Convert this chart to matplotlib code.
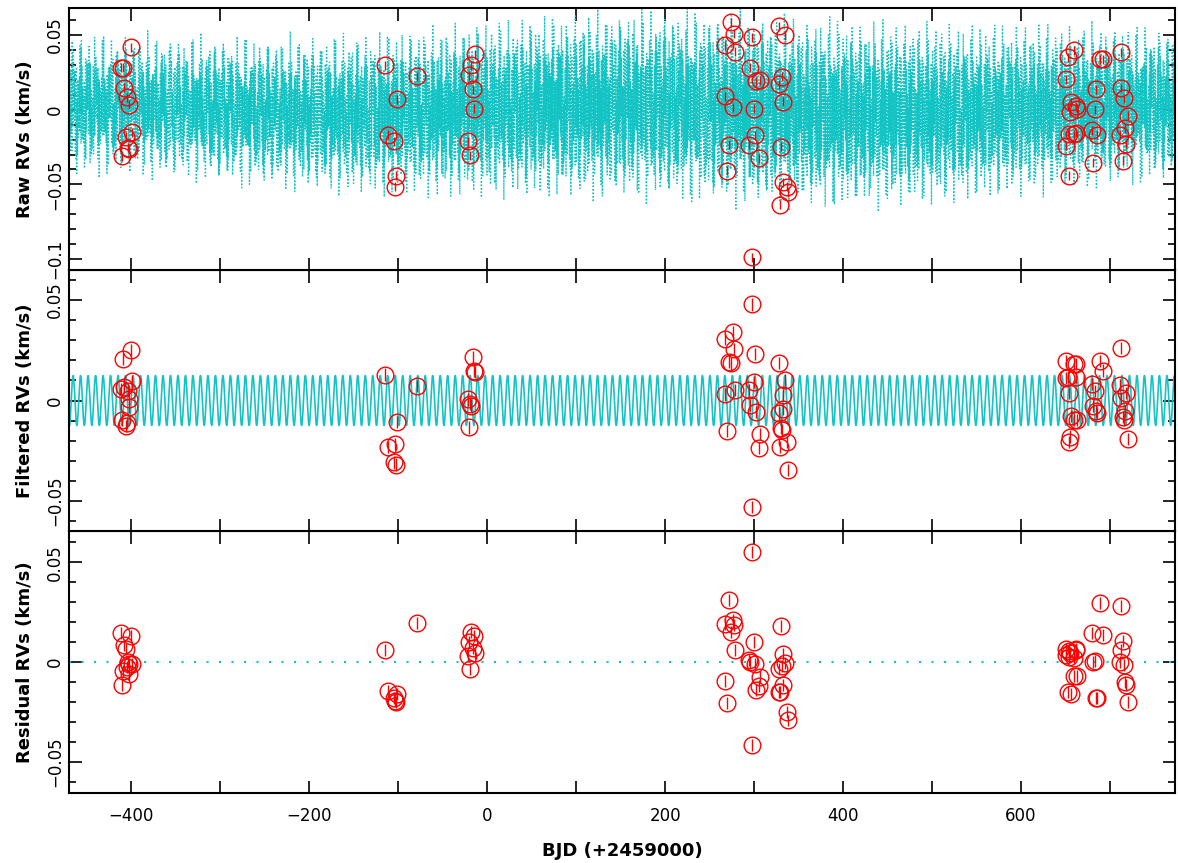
import numpy as np
import matplotlib.pyplot as plt
from matplotlib.ticker import MultipleLocator, FuncFormatter

# observation epochs, BJD - 2459000
times = [-411.5, -410.5, -408.8, -407.8, -406.5, -404.8, -403.7, -403.0, -402.2, -400.3, -399.3,
         -114.5, -111.5, -104.5, -103.4, -102.6, -101.6, -79.0,
         -21.5, -20.5, -19.5, -18.0, -16.5, -15.0, -13.5,
         267.5, 267.8, 269.2, 272.3, 274.2, 276.0, 277.1, 278.2, 293.9, 295.1, 297.3, 297.8,
         300.3, 301.1, 302.2, 305.2, 306.3, 328.1, 328.3, 328.7, 330.4, 330.8, 332.1, 332.9,
         335.1, 337.2, 337.6,
         650.6, 651.0, 652.7, 654.0, 654.4, 655.0, 656.1, 659.5, 659.8, 661.7, 662.0, 662.3,
         679.3, 681.1, 683.4, 684.2, 685.6, 688.3, 691.7, 711.1, 712.0, 712.4, 714.5, 715.9,
         716.7, 717.9, 720.4]

raw_rv = [0.028, -0.031, 0.028, 0.0147, -0.018, 0.0083, -0.0255, -0.0266, 0.0032, 0.0417, -0.0151,
          0.0296, -0.0167, -0.021, -0.0516, -0.0442, 0.007, 0.0223,
          -0.021, 0.023, -0.0306, 0.0297, 0.0135, 0.0007, 0.037,
          0.0430, 0.0090, -0.0409, -0.0235, 0.0586, 0.0016, 0.0507, 0.0386, -0.0235, 0.0279,
          -0.0986, 0.0484, 0.0007, -0.0172, 0.0191, -0.0325, 0.0198, 0.0169, 0.0559, -0.0636,
          -0.0248, 0.0219, 0.0054, -0.0485, 0.0498, -0.0514, -0.0551,
          -0.0241, 0.0204, 0.0349, -0.0165, -0.0441, -0.0013, 0.0049, -0.0165, 0.0398, -0.0154,
          0.0022, 0.0007, -0.0137, -0.0355, 0.0004, 0.0135, -0.0168, 0.0336, 0.0336, -0.0168,
          0.0384, 0.0145, -0.0341, 0.0076, -0.0124, -0.0227, -0.0041]

filtered_rv = [0.0059, -0.0096, 0.0208, 0.0069, -0.0127, -0.0114, 0.0045, -0.0033, 0.0008, 0.0249, 0.0099,
               0.0129, -0.0229, -0.0308, -0.0218, -0.0318, -0.0105, 0.0074,
               0.0005, -0.0134, -0.0015, -0.0025, 0.0218, 0.0149, 0.014,
               0.0030, 0.0305, -0.0151, 0.0192, 0.0184, 0.0338, 0.0257, 0.0051, 0.0053, -0.0023,
               -0.0528, 0.0477, 0.0091, 0.0232, -0.0055, -0.0238, -0.0167, 0.0187, -0.0061, -0.0230,
               -0.0137, -0.0149, 0.0028, -0.0043, 0.0103, -0.0204, -0.0344,
               0.0195, 0.0113, 0.0116, 0.0035, -0.0207, -0.0179, -0.0078, -0.0099, 0.0182, 0.0182,
               0.0119, -0.0099, 0.0083, -0.0028, 0.0046, -0.0050, -0.0061, 0.0195, 0.0149, 0.0076,
               0.0260, 0.0012, -0.0084, -0.0099, -0.0050, 0.0035, -0.0190]

residual_rv = [0.0144, -0.0115, -0.0043, 0.0086, 0.0065, -0.0025, 0.0, -0.0011, -0.006, 0.0129, -0.0011,
               0.0062, -0.0142, -0.0181, -0.0195, -0.0201, -0.016, 0.0195,
               0.0029, 0.0099, -0.0036, 0.0153, 0.007, 0.0129, 0.0047,
               -0.0095, 0.0193, -0.0205, 0.0313, 0.0152, 0.0211, 0.0185, 0.0060, 0.0012, -0.0001,
               -0.0414, 0.0553, 0.0101, -0.0011, -0.0141, -0.0121, -0.0072, -0.0149, -0.0032, -0.0151,
               0.0180, -0.0019, -0.0113, 0.0040, -0.0006, -0.0248, -0.0292,
               0.0068, 0.0037, -0.0149, 0.0058, 0.0025, 0.0045, -0.0160, -0.0068, 0.0019, 0.0065,
               0.0063, -0.0068, 0.0144, -0.0001, 0.0004, -0.018, -0.018, 0.0297, 0.0134, -0.0001,
               0.0282, 0.0063, 0.0106, -0.0012, -0.0098, -0.0116, -0.020]

rv_err = 0.003

# fitted model parameters
planet_period = 8.42
planet_amp = 0.0124
planet_t0 = -465.4
act_periods = [0.7854, 0.6789]
act_weights = [0.72, 0.28]
act_phases = [0.0, 1.3]
env_mean, env_amp, env_peak, env_period = 0.047, 0.009, 280.0, 1500.0
trend_amp, trend_min, trend_period = 0.003, 450.0, 600.0
model_step = 0.3

XLIM = (-470, 773)
CYAN = '#14c4c4'

tm = np.arange(XLIM[0], XLIM[1], model_step)
tf = np.linspace(XLIM[0], XLIM[1], 6000)
planet_fine = planet_amp * np.cos(2 * np.pi * (tf - planet_t0) / planet_period)
planet = planet_amp * np.cos(2 * np.pi * (tm - planet_t0) / planet_period)
env = env_mean + env_amp * np.cos(2 * np.pi * (tm - env_peak) / env_period)
act = sum(w * np.sin(2 * np.pi * tm / p + ph)
          for p, w, ph in zip(act_periods, act_weights, act_phases))
trend = -trend_amp * np.cos(2 * np.pi * (tm - trend_min) / trend_period)
raw_model = env * act + planet + trend


def fmt(v, pos):
    s = '%g' % round(v, 4)
    return s.replace('-', '\u2212')


def style(ax, ylim, ylabel):
    ax.set_xlim(*XLIM)
    ax.set_ylim(*ylim)
    ax.xaxis.set_major_locator(MultipleLocator(200))
    ax.xaxis.set_minor_locator(MultipleLocator(100))
    ax.yaxis.set_major_locator(MultipleLocator(0.05))
    ax.yaxis.set_minor_locator(MultipleLocator(0.01))
    ax.yaxis.set_major_formatter(FuncFormatter(fmt))
    ax.tick_params(which='both', direction='in', top=True, right=True, width=1.2)
    ax.tick_params(which='major', length=9, labelsize=12)
    ax.tick_params(axis='x', which='major', pad=10)
    ax.tick_params(axis='y', which='minor', length=5)
    ax.tick_params(axis='x', which='minor', length=9)
    for lab in ax.get_yticklabels():
        lab.set_rotation(90)
        lab.set_va('center')
    for sp in ax.spines.values():
        sp.set_linewidth(1.5)
    ax.set_ylabel(ylabel, fontsize=13, fontweight='bold', labelpad=9)


def points(ax, vals):
    ax.errorbar(times, vals, yerr=rv_err, fmt='o', mfc='none', mec='red', ecolor='red',
                ms=12, mew=1, elinewidth=1, capsize=0, zorder=3)


fig = plt.figure(figsize=(11.78, 8.63), dpi=100)
left, width = 69 / 1178, (1175 - 69) / 1178
h = (793 - 8) / 3 / 863
b0 = 1 - 793 / 863
ax3 = fig.add_axes([left, b0, width, h])
ax2 = fig.add_axes([left, b0 + h, width, h])
ax1 = fig.add_axes([left, b0 + 2 * h, width, h])

ax1.plot(tm, raw_model, color=CYAN, lw=1.0, ls=(0, (1, 1.5)))
points(ax1, raw_rv)
style(ax1, (-0.107, 0.068), 'Raw RVs (km/s)')

ax2.plot(tf, planet_fine, color=CYAN, lw=1.2)
points(ax2, filtered_rv)
style(ax2, (-0.065, 0.065), 'Filtered RVs (km/s)')

ax3.axhline(0, color=CYAN, lw=1.5, ls=(0, (1, 5)))
points(ax3, residual_rv)
style(ax3, (-0.0655, 0.0655), 'Residual RVs (km/s)')
ax3.set_xlabel('BJD (+2459000)', fontsize=13, fontweight='bold', labelpad=12)

for ax in (ax1, ax2):
    ax.tick_params(labelbottom=False)

fig.savefig('out.png', dpi=100)
